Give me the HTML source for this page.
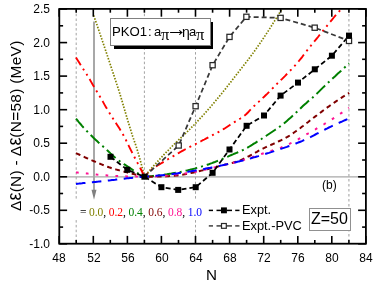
<!DOCTYPE html>
<html><head><meta charset="utf-8"><title>plot</title>
<style>
html,body{margin:0;padding:0;background:#fff;}
body{width:374px;height:285px;position:relative;overflow:hidden;font-family:"Liberation Sans",sans-serif;color:#000;}
.t{position:absolute;white-space:nowrap;line-height:1;will-change:transform;}
.xt{font-size:12px;width:30px;text-align:center;top:252.2px;}
.yt{font-size:12px;width:30px;text-align:right;left:19.9px;}
.ser{font-family:"Liberation Serif",serif;}
</style></head><body>
<svg width="374" height="285" viewBox="0 0 374 285" style="position:absolute;left:0;top:0">
<line x1="76.2" y1="8.9" x2="76.2" y2="243.7" stroke="#8a8a8a" stroke-width="0.8" stroke-dasharray="2.5 2.3"/>
<line x1="144.4" y1="8.9" x2="144.4" y2="243.7" stroke="#8a8a8a" stroke-width="0.8" stroke-dasharray="2.5 2.3"/>
<line x1="195.5" y1="8.9" x2="195.5" y2="243.7" stroke="#8a8a8a" stroke-width="0.8" stroke-dasharray="2.5 2.3"/>
<line x1="348.9" y1="8.9" x2="348.9" y2="243.7" stroke="#b4b4b4" stroke-width="1.3" stroke-dasharray="2.5 2.5"/>
<line x1="59.3" y1="176.8" x2="365.9" y2="176.8" stroke="#a8a8a8" stroke-width="1.2"/>
<line x1="94" y1="21.5" x2="94" y2="191" stroke="#a8a8a8" stroke-width="2"/>
<polygon points="91.5,189.8 96.5,189.8 94,199.8" fill="#808080"/>
<clipPath id="c"><rect x="59.3" y="8.9" width="306.59999999999997" height="234.79999999999998"/></clipPath>
<g clip-path="url(#c)" fill="none">
<path d="M93.7,15.4 L95.2,19.8 L96.7,24.1 L98.2,28.5 L99.7,32.9 L101.2,37.4 L102.7,41.8 L104.2,46.3 L105.7,50.7 L107.2,55.2 L108.7,59.7 L110.2,64.3 L111.7,68.8 L113.2,73.3 L114.7,77.8 L116.2,82.4 L117.7,86.9 L119.2,91.6 L120.7,96.5 L122.2,101.5 L123.7,106.7 L125.2,111.8 L126.7,116.9 L128.2,121.9 L129.7,126.8 L131.2,131.6 L132.7,136.4 L134.2,140.8 L135.7,145.0 L137.2,149.7 L138.7,154.8 L140.2,160.1 L141.7,165.7 L143.2,171.6 L144.4,176.7 L145.9,174.9 L147.4,173.1 L148.9,171.3 L150.4,169.6 L151.9,167.8 L153.4,166.1 L154.9,164.4 L156.4,162.8 L157.9,161.1 L159.4,159.5 L160.9,157.9 L162.4,156.3 L163.9,154.7 L165.4,153.1 L166.9,151.6 L168.4,150.1 L169.9,148.5 L171.4,147.0 L172.9,145.5 L174.4,144.0 L175.9,142.6 L177.4,141.1 L178.9,139.7 L180.4,138.3 L181.9,136.9 L183.4,135.5 L184.9,134.0 L186.4,132.6 L187.9,131.1 L189.4,129.6 L190.9,128.1 L192.4,126.5 L193.9,125.0 L195.4,123.4 L196.9,121.9 L198.4,120.3 L199.9,118.7 L201.4,117.1 L202.9,115.4 L204.4,113.8 L205.9,112.1 L207.4,110.4 L208.9,108.7 L210.4,107.0 L211.9,105.2 L213.4,103.5 L214.9,101.7 L216.4,99.9 L217.9,98.1 L219.4,96.3 L220.9,94.5 L222.4,92.6 L223.9,90.7 L225.4,88.9 L226.9,86.9 L228.4,85.0 L229.9,83.1 L231.4,81.2 L232.9,79.2 L234.4,77.3 L235.9,75.4 L237.4,73.4 L238.9,71.5 L240.4,69.6 L241.9,67.7 L243.4,65.8 L244.9,63.9 L246.4,61.9 L247.9,60.0 L249.4,58.0 L250.9,56.0 L252.4,54.0 L253.9,51.9 L255.4,49.8 L256.9,47.7 L258.4,45.6 L259.9,43.4 L261.4,41.2 L262.9,39.0 L264.4,36.8 L265.9,34.5 L267.4,32.3 L268.9,29.9 L270.4,27.6 L271.9,25.2 L273.4,22.8 L274.9,20.4 L276.4,18.0 L277.9,15.5 L279.4,13.1 L280.9,10.7 L282.0,8.9" stroke="#808000" stroke-width="1.7" stroke-dasharray="1.5 1.5"/>
<path d="M76.0,57.5 L77.5,59.9 L79.0,62.3 L80.5,64.7 L82.0,67.1 L83.5,69.4 L85.0,71.7 L86.5,74.1 L88.0,76.5 L89.5,79.0 L91.0,81.6 L92.5,84.3 L94.0,86.8 L95.5,89.3 L97.0,91.8 L98.5,94.2 L100.0,96.7 L101.5,99.3 L103.0,101.9 L104.5,104.6 L106.0,107.2 L107.5,109.7 L109.0,112.1 L110.5,114.6 L112.0,117.0 L113.5,119.3 L115.0,121.6 L116.5,123.9 L118.0,126.2 L119.5,128.6 L121.0,131.1 L122.5,133.6 L124.0,136.3 L125.5,139.1 L127.0,142.2 L128.5,145.3 L130.0,148.3 L131.5,151.3 L133.0,154.3 L134.5,157.2 L136.0,160.1 L137.5,162.9 L139.0,165.7 L140.5,168.5 L142.0,171.5 L143.5,174.7 L144.4,176.7 L145.9,175.1 L147.4,173.6 L148.9,172.1 L150.4,170.8 L151.9,169.5 L153.4,168.3 L154.9,167.2 L156.4,166.2 L157.9,165.3 L159.4,164.4 L160.9,163.5 L162.4,162.6 L163.9,161.7 L165.4,160.8 L166.9,159.9 L168.4,159.0 L169.9,158.1 L171.4,157.2 L172.9,156.3 L174.4,155.5 L175.9,154.6 L177.4,153.7 L178.9,152.9 L180.4,152.0 L181.9,151.1 L183.4,150.3 L184.9,149.5 L186.4,148.7 L187.9,147.9 L189.4,147.1 L190.9,146.4 L192.4,145.7 L193.9,144.9 L195.4,144.2 L196.9,143.4 L198.4,142.6 L199.9,141.8 L201.4,141.0 L202.9,140.2 L204.4,139.5 L205.9,138.7 L207.4,137.9 L208.9,137.1 L210.4,136.3 L211.9,135.5 L213.4,134.7 L214.9,133.9 L216.4,133.1 L217.9,132.3 L219.4,131.5 L220.9,130.7 L222.4,129.8 L223.9,128.9 L225.4,128.0 L226.9,127.0 L228.4,126.0 L229.9,125.0 L231.4,124.0 L232.9,123.0 L234.4,122.1 L235.9,121.2 L237.4,120.3 L238.9,119.4 L240.4,118.5 L241.9,117.5 L243.4,116.5 L244.9,115.3 L246.4,114.0 L247.9,112.5 L249.4,110.9 L250.9,109.3 L252.4,107.7 L253.9,106.2 L255.4,104.8 L256.9,103.4 L258.4,102.1 L259.9,100.7 L261.4,99.3 L262.9,97.9 L264.4,96.5 L265.9,95.0 L267.4,93.6 L268.9,92.1 L270.4,90.6 L271.9,89.0 L273.4,87.5 L274.9,86.0 L276.4,84.5 L277.9,83.0 L279.4,81.5 L280.9,80.0 L282.4,78.6 L283.9,77.1 L285.4,75.6 L286.9,74.0 L288.4,72.5 L289.9,70.9 L291.4,69.4 L292.9,67.8 L294.4,66.2 L295.9,64.5 L297.4,62.8 L298.9,61.0 L300.4,59.2 L301.9,57.3 L303.4,55.3 L304.9,53.3 L306.4,51.4 L307.9,49.4 L309.4,47.5 L310.9,45.7 L312.4,43.8 L313.9,42.0 L315.4,40.2 L316.9,38.3 L318.4,36.5 L319.9,34.6 L321.4,32.8 L322.9,30.9 L324.4,29.0 L325.9,27.2 L327.4,25.3 L328.9,23.5 L330.4,21.7 L331.9,19.8 L333.4,18.0 L334.9,16.2 L336.4,14.5 L337.9,12.8 L339.4,11.1 L340.9,9.5 L341.5,8.9" stroke="#ff0000" stroke-width="1.9" stroke-dasharray="9 4.2 2 4.2 2 4.1"/>
<path d="M76.0,118.6 L77.5,120.4 L79.0,122.3 L80.5,124.0 L82.0,125.8 L83.5,127.5 L85.0,129.1 L86.5,130.7 L88.0,132.3 L89.5,133.8 L91.0,135.3 L92.5,136.8 L94.0,138.3 L95.5,139.7 L97.0,141.1 L98.5,142.5 L100.0,143.8 L101.5,145.1 L103.0,146.4 L104.5,147.7 L106.0,149.1 L107.5,150.5 L109.0,151.9 L110.5,153.4 L112.0,154.8 L113.5,156.2 L115.0,157.6 L116.5,158.8 L118.0,160.0 L119.5,161.1 L121.0,162.2 L122.5,163.2 L124.0,164.2 L125.5,165.2 L127.0,166.2 L128.5,167.2 L130.0,168.2 L131.5,169.2 L133.0,170.2 L134.5,171.2 L136.0,172.1 L137.5,173.0 L139.0,173.9 L140.5,174.7 L142.0,175.5 L143.5,176.3 L144.4,176.7 L145.9,176.6 L147.4,176.5 L148.9,176.3 L150.4,176.2 L151.9,176.1 L153.4,175.9 L154.9,175.7 L156.4,175.6 L157.9,175.4 L159.4,175.2 L160.9,175.1 L162.4,174.9 L163.9,174.7 L165.4,174.5 L166.9,174.3 L168.4,174.0 L169.9,173.8 L171.4,173.6 L172.9,173.3 L174.4,173.0 L175.9,172.8 L177.4,172.5 L178.9,172.2 L180.4,171.9 L181.9,171.6 L183.4,171.3 L184.9,171.0 L186.4,170.6 L187.9,170.3 L189.4,169.9 L190.9,169.5 L192.4,169.1 L193.9,168.8 L195.4,168.4 L196.9,167.9 L198.4,167.5 L199.9,167.1 L201.4,166.6 L202.9,166.1 L204.4,165.7 L205.9,165.2 L207.4,164.7 L208.9,164.2 L210.4,163.6 L211.9,163.1 L213.4,162.5 L214.9,162.0 L216.4,161.4 L217.9,160.8 L219.4,160.2 L220.9,159.6 L222.4,159.0 L223.9,158.3 L225.4,157.7 L226.9,157.0 L228.4,156.4 L229.9,155.7 L231.4,155.0 L232.9,154.4 L234.4,153.7 L235.9,153.1 L237.4,152.5 L238.9,151.8 L240.4,151.2 L241.9,150.5 L243.4,149.8 L244.9,149.1 L246.4,148.3 L247.9,147.4 L249.4,146.5 L250.9,145.6 L252.4,144.7 L253.9,143.7 L255.4,142.8 L256.9,141.8 L258.4,140.9 L259.9,139.9 L261.4,139.0 L262.9,138.0 L264.4,137.0 L265.9,136.0 L267.4,135.0 L268.9,134.0 L270.4,133.0 L271.9,132.0 L273.4,131.0 L274.9,130.0 L276.4,129.0 L277.9,128.0 L279.4,126.9 L280.9,125.8 L282.4,124.7 L283.9,123.5 L285.4,122.2 L286.9,120.9 L288.4,119.6 L289.9,118.3 L291.4,116.9 L292.9,115.6 L294.4,114.2 L295.9,112.8 L297.4,111.4 L298.9,110.0 L300.4,108.5 L301.9,107.0 L303.4,105.6 L304.9,104.2 L306.4,102.9 L307.9,101.5 L309.4,100.3 L310.9,99.0 L312.4,97.7 L313.9,96.4 L315.4,95.0 L316.9,93.6 L318.4,92.1 L319.9,90.6 L321.4,89.1 L322.9,87.6 L324.4,86.2 L325.9,84.7 L327.4,83.3 L328.9,81.9 L330.4,80.5 L331.9,79.1 L333.4,77.7 L334.9,76.4 L336.4,75.0 L337.9,73.6 L339.4,72.3 L340.9,70.9 L342.4,69.5 L343.9,68.1 L345.4,66.7 L346.9,65.3 L348.4,63.9 L349.0,63.3" stroke="#008000" stroke-width="2" stroke-dasharray="12 4 2 4"/>
<path d="M76.0,153.1 L77.5,153.8 L79.0,154.5 L80.5,155.2 L82.0,155.9 L83.5,156.6 L85.0,157.3 L86.5,158.0 L88.0,158.6 L89.5,159.3 L91.0,159.9 L92.5,160.6 L94.0,161.2 L95.5,161.8 L97.0,162.5 L98.5,163.1 L100.0,163.8 L101.5,164.4 L103.0,165.0 L104.5,165.6 L106.0,166.2 L107.5,166.7 L109.0,167.3 L110.5,167.8 L112.0,168.3 L113.5,168.7 L115.0,169.2 L116.5,169.6 L118.0,170.0 L119.5,170.4 L121.0,170.8 L122.5,171.2 L124.0,171.6 L125.5,172.0 L127.0,172.4 L128.5,172.8 L130.0,173.2 L131.5,173.6 L133.0,173.9 L134.5,174.3 L136.0,174.7 L137.5,175.1 L139.0,175.4 L140.5,175.8 L142.0,176.1 L143.5,176.5 L144.4,176.7 L145.9,176.7 L147.4,176.7 L148.9,176.7 L150.4,176.7 L151.9,176.7 L153.4,176.6 L154.9,176.6 L156.4,176.6 L157.9,176.6 L159.4,176.5 L160.9,176.5 L162.4,176.5 L163.9,176.4 L165.4,176.4 L166.9,176.3 L168.4,176.2 L169.9,176.1 L171.4,176.0 L172.9,175.8 L174.4,175.7 L175.9,175.6 L177.4,175.4 L178.9,175.3 L180.4,175.1 L181.9,174.8 L183.4,174.6 L184.9,174.3 L186.4,174.0 L187.9,173.7 L189.4,173.4 L190.9,173.0 L192.4,172.7 L193.9,172.4 L195.4,172.1 L196.9,171.7 L198.4,171.4 L199.9,171.0 L201.4,170.6 L202.9,170.3 L204.4,169.9 L205.9,169.5 L207.4,169.2 L208.9,168.8 L210.4,168.4 L211.9,168.0 L213.4,167.6 L214.9,167.2 L216.4,166.8 L217.9,166.5 L219.4,166.1 L220.9,165.7 L222.4,165.3 L223.9,164.9 L225.4,164.5 L226.9,164.2 L228.4,163.8 L229.9,163.4 L231.4,163.0 L232.9,162.7 L234.4,162.2 L235.9,161.8 L237.4,161.3 L238.9,160.8 L240.4,160.3 L241.9,159.6 L243.4,158.9 L244.9,158.2 L246.4,157.5 L247.9,156.7 L249.4,156.0 L250.9,155.2 L252.4,154.4 L253.9,153.5 L255.4,152.6 L256.9,151.8 L258.4,150.9 L259.9,150.1 L261.4,149.3 L262.9,148.6 L264.4,147.9 L265.9,147.2 L267.4,146.5 L268.9,145.8 L270.4,145.2 L271.9,144.5 L273.4,143.8 L274.9,143.1 L276.4,142.4 L277.9,141.7 L279.4,141.0 L280.9,140.3 L282.4,139.6 L283.9,138.8 L285.4,138.0 L286.9,137.2 L288.4,136.3 L289.9,135.4 L291.4,134.4 L292.9,133.4 L294.4,132.3 L295.9,131.2 L297.4,130.1 L298.9,129.1 L300.4,128.0 L301.9,126.8 L303.4,125.7 L304.9,124.5 L306.4,123.3 L307.9,122.2 L309.4,121.0 L310.9,119.8 L312.4,118.7 L313.9,117.5 L315.4,116.4 L316.9,115.3 L318.4,114.1 L319.9,113.0 L321.4,111.9 L322.9,110.7 L324.4,109.6 L325.9,108.5 L327.4,107.4 L328.9,106.4 L330.4,105.3 L331.9,104.2 L333.4,103.2 L334.9,102.1 L336.4,101.1 L337.9,100.1 L339.4,99.1 L340.9,98.1 L342.4,97.1 L343.9,96.2 L345.4,95.2 L346.9,94.3 L348.4,93.4 L349.2,92.9" stroke="#800000" stroke-width="2" stroke-dasharray="4.8 3.7"/>
<path d="M76.0,172.4 L77.5,172.5 L79.0,172.7 L80.5,172.8 L82.0,172.9 L83.5,173.1 L85.0,173.2 L86.5,173.4 L88.0,173.6 L89.5,173.7 L91.0,173.9 L92.5,174.1 L94.0,174.3 L95.5,174.4 L97.0,174.6 L98.5,174.7 L100.0,174.8 L101.5,174.9 L103.0,175.1 L104.5,175.2 L106.0,175.3 L107.5,175.4 L109.0,175.5 L110.5,175.6 L112.0,175.7 L113.5,175.8 L115.0,175.9 L116.5,175.9 L118.0,176.0 L119.5,176.1 L121.0,176.1 L122.5,176.2 L124.0,176.3 L125.5,176.3 L127.0,176.4 L128.5,176.4 L130.0,176.5 L131.5,176.5 L133.0,176.6 L134.5,176.6 L136.0,176.6 L137.5,176.6 L139.0,176.7 L140.5,176.7 L142.0,176.7 L143.5,176.7 L144.4,176.7 L145.9,176.7 L147.4,176.6 L148.9,176.6 L150.4,176.5 L151.9,176.5 L153.4,176.4 L154.9,176.4 L156.4,176.3 L157.9,176.2 L159.4,176.1 L160.9,176.0 L162.4,175.9 L163.9,175.8 L165.4,175.7 L166.9,175.6 L168.4,175.4 L169.9,175.3 L171.4,175.1 L172.9,175.0 L174.4,174.8 L175.9,174.6 L177.4,174.4 L178.9,174.3 L180.4,174.1 L181.9,173.9 L183.4,173.7 L184.9,173.5 L186.4,173.3 L187.9,173.1 L189.4,172.8 L190.9,172.6 L192.4,172.4 L193.9,172.1 L195.4,171.8 L196.9,171.6 L198.4,171.2 L199.9,170.9 L201.4,170.6 L202.9,170.2 L204.4,169.8 L205.9,169.5 L207.4,169.1 L208.9,168.7 L210.4,168.3 L211.9,168.0 L213.4,167.6 L214.9,167.3 L216.4,166.9 L217.9,166.5 L219.4,166.2 L220.9,165.8 L222.4,165.5 L223.9,165.1 L225.4,164.8 L226.9,164.4 L228.4,164.0 L229.9,163.6 L231.4,163.2 L232.9,162.8 L234.4,162.5 L235.9,162.1 L237.4,161.6 L238.9,161.2 L240.4,160.8 L241.9,160.4 L243.4,160.0 L244.9,159.5 L246.4,159.1 L247.9,158.6 L249.4,158.2 L250.9,157.7 L252.4,157.2 L253.9,156.6 L255.4,156.1 L256.9,155.6 L258.4,155.1 L259.9,154.5 L261.4,154.0 L262.9,153.5 L264.4,153.0 L265.9,152.5 L267.4,152.0 L268.9,151.5 L270.4,151.1 L271.9,150.6 L273.4,150.2 L274.9,149.8 L276.4,149.4 L277.9,148.9 L279.4,148.3 L280.9,147.7 L282.4,147.0 L283.9,146.3 L285.4,145.7 L286.9,145.0 L288.4,144.3 L289.9,143.6 L291.4,142.9 L292.9,142.2 L294.4,141.4 L295.9,140.6 L297.4,139.8 L298.9,138.9 L300.4,138.0 L301.9,137.1 L303.4,136.2 L304.9,135.3 L306.4,134.4 L307.9,133.6 L309.4,132.7 L310.9,131.9 L312.4,131.0 L313.9,130.1 L315.4,129.3 L316.9,128.4 L318.4,127.5 L319.9,126.7 L321.4,125.8 L322.9,124.9 L324.4,124.0 L325.9,123.0 L327.4,122.1 L328.9,121.2 L330.4,120.2 L331.9,119.3 L333.4,118.3 L334.9,117.3 L336.4,116.4 L337.9,115.4 L339.4,114.4 L340.9,113.3 L342.4,112.3 L343.9,111.2 L345.4,110.2 L346.9,109.2 L348.4,108.2 L349.0,107.8" stroke="#ff1493" stroke-width="2" stroke-dasharray="2.7 7.2"/>
<path d="M76.0,183.9 L77.5,183.7 L79.0,183.6 L80.5,183.4 L82.0,183.3 L83.5,183.1 L85.0,183.0 L86.5,182.8 L88.0,182.7 L89.5,182.5 L91.0,182.3 L92.5,182.2 L94.0,182.0 L95.5,181.9 L97.0,181.7 L98.5,181.6 L100.0,181.4 L101.5,181.2 L103.0,181.1 L104.5,180.9 L106.0,180.8 L107.5,180.6 L109.0,180.4 L110.5,180.3 L112.0,180.1 L113.5,179.9 L115.0,179.8 L116.5,179.6 L118.0,179.4 L119.5,179.2 L121.0,179.1 L122.5,178.9 L124.0,178.7 L125.5,178.5 L127.0,178.3 L128.5,178.2 L130.0,178.0 L131.5,177.9 L133.0,177.7 L134.5,177.6 L136.0,177.4 L137.5,177.3 L139.0,177.1 L140.5,177.0 L142.0,176.9 L143.5,176.8 L144.4,176.7 L145.9,176.6 L147.4,176.5 L148.9,176.4 L150.4,176.3 L151.9,176.2 L153.4,176.0 L154.9,175.9 L156.4,175.8 L157.9,175.6 L159.4,175.5 L160.9,175.3 L162.4,175.2 L163.9,175.0 L165.4,174.9 L166.9,174.7 L168.4,174.5 L169.9,174.3 L171.4,174.2 L172.9,174.0 L174.4,173.8 L175.9,173.6 L177.4,173.4 L178.9,173.1 L180.4,172.9 L181.9,172.7 L183.4,172.5 L184.9,172.2 L186.4,172.0 L187.9,171.8 L189.4,171.5 L190.9,171.3 L192.4,171.0 L193.9,170.7 L195.4,170.5 L196.9,170.2 L198.4,170.0 L199.9,169.7 L201.4,169.4 L202.9,169.2 L204.4,168.9 L205.9,168.6 L207.4,168.3 L208.9,168.0 L210.4,167.8 L211.9,167.5 L213.4,167.2 L214.9,166.9 L216.4,166.6 L217.9,166.2 L219.4,165.9 L220.9,165.6 L222.4,165.3 L223.9,164.9 L225.4,164.6 L226.9,164.3 L228.4,163.9 L229.9,163.6 L231.4,163.2 L232.9,162.9 L234.4,162.5 L235.9,162.2 L237.4,161.8 L238.9,161.4 L240.4,161.1 L241.9,160.7 L243.4,160.3 L244.9,159.9 L246.4,159.5 L247.9,159.1 L249.4,158.7 L250.9,158.3 L252.4,157.8 L253.9,157.4 L255.4,157.0 L256.9,156.5 L258.4,156.1 L259.9,155.6 L261.4,155.2 L262.9,154.7 L264.4,154.3 L265.9,153.8 L267.4,153.3 L268.9,152.9 L270.4,152.4 L271.9,151.9 L273.4,151.4 L274.9,150.9 L276.4,150.4 L277.9,149.9 L279.4,149.4 L280.9,148.9 L282.4,148.4 L283.9,147.9 L285.4,147.4 L286.9,146.9 L288.4,146.3 L289.9,145.8 L291.4,145.2 L292.9,144.7 L294.4,144.1 L295.9,143.5 L297.4,142.9 L298.9,142.3 L300.4,141.7 L301.9,141.1 L303.4,140.4 L304.9,139.7 L306.4,139.1 L307.9,138.4 L309.4,137.6 L310.9,136.9 L312.4,136.1 L313.9,135.3 L315.4,134.5 L316.9,133.7 L318.4,133.0 L319.9,132.2 L321.4,131.4 L322.9,130.6 L324.4,129.8 L325.9,129.0 L327.4,128.3 L328.9,127.5 L330.4,126.8 L331.9,126.1 L333.4,125.4 L334.9,124.8 L336.4,124.1 L337.9,123.4 L339.4,122.7 L340.9,122.0 L342.4,121.4 L343.9,120.7 L345.4,120.0 L346.9,119.3 L348.4,118.6 L349.2,118.2" stroke="#0000ff" stroke-width="2" stroke-dasharray="9.5 6.5"/>
<path d="M144.4,176.7 L178.7,145.5 L195.6,106.2 L212.6,65.2 L229.5,36.9 L246.4,16.8 L280.6,17.9 L314.7,27.7 L349.0,40.9" stroke="#383838" stroke-width="1.75" stroke-dasharray="5 3"/>
<path d="M110.5,156.8 L127.3,169.8 L144.4,176.7 L161.4,187.2 L178.2,189.9 L195.7,187.2 L212.6,172.8 L229.5,149.5 L246.6,125.8 L264.0,115.5 L280.6,95.6 L298.0,82.6 L314.8,69.3 L331.9,55.7 L349.0,35.6" stroke="#000" stroke-width="1.75" stroke-dasharray="5 3"/>
</g>
<rect x="176.1" y="142.9" width="5.2" height="5.2" fill="#fff" stroke="#282828" stroke-width="1.25"/>
<rect x="193.0" y="103.6" width="5.2" height="5.2" fill="#fff" stroke="#282828" stroke-width="1.25"/>
<rect x="210.0" y="62.6" width="5.2" height="5.2" fill="#fff" stroke="#282828" stroke-width="1.25"/>
<rect x="226.9" y="34.3" width="5.2" height="5.2" fill="#fff" stroke="#282828" stroke-width="1.25"/>
<rect x="243.8" y="14.2" width="5.2" height="5.2" fill="#fff" stroke="#282828" stroke-width="1.25"/>
<rect x="278.0" y="15.3" width="5.2" height="5.2" fill="#fff" stroke="#282828" stroke-width="1.25"/>
<rect x="312.1" y="25.1" width="5.2" height="5.2" fill="#fff" stroke="#282828" stroke-width="1.25"/>
<rect x="346.4" y="38.3" width="5.2" height="5.2" fill="#fff" stroke="#282828" stroke-width="1.25"/>
<rect x="107.5" y="153.8" width="6" height="6" fill="#000"/>
<rect x="124.3" y="166.8" width="6" height="6" fill="#000"/>
<rect x="141.4" y="173.7" width="6" height="6" fill="#000"/>
<rect x="158.4" y="184.2" width="6" height="6" fill="#000"/>
<rect x="175.2" y="186.9" width="6" height="6" fill="#000"/>
<rect x="192.7" y="184.2" width="6" height="6" fill="#000"/>
<rect x="209.6" y="169.8" width="6" height="6" fill="#000"/>
<rect x="226.5" y="146.5" width="6" height="6" fill="#000"/>
<rect x="243.6" y="122.8" width="6" height="6" fill="#000"/>
<rect x="261.0" y="112.5" width="6" height="6" fill="#000"/>
<rect x="277.6" y="92.6" width="6" height="6" fill="#000"/>
<rect x="295.0" y="79.6" width="6" height="6" fill="#000"/>
<rect x="311.8" y="66.3" width="6" height="6" fill="#000"/>
<rect x="328.9" y="52.7" width="6" height="6" fill="#000"/>
<rect x="346.0" y="32.6" width="6" height="6" fill="#000"/>
<rect x="59.3" y="8.9" width="306.59999999999997" height="234.79999999999998" fill="none" stroke="#000" stroke-width="1.8"/>
<line x1="59.2" y1="243.7" x2="59.2" y2="235.89999999999998" stroke="#000" stroke-width="1.6"/>
<line x1="59.2" y1="8.9" x2="59.2" y2="16.7" stroke="#000" stroke-width="1.6"/>
<line x1="76.2" y1="243.7" x2="76.2" y2="239.89999999999998" stroke="#000" stroke-width="1.6"/>
<line x1="76.2" y1="8.9" x2="76.2" y2="12.7" stroke="#000" stroke-width="1.6"/>
<line x1="93.3" y1="243.7" x2="93.3" y2="235.89999999999998" stroke="#000" stroke-width="1.6"/>
<line x1="93.3" y1="8.9" x2="93.3" y2="16.7" stroke="#000" stroke-width="1.6"/>
<line x1="110.3" y1="243.7" x2="110.3" y2="239.89999999999998" stroke="#000" stroke-width="1.6"/>
<line x1="110.3" y1="8.9" x2="110.3" y2="12.7" stroke="#000" stroke-width="1.6"/>
<line x1="127.4" y1="243.7" x2="127.4" y2="235.89999999999998" stroke="#000" stroke-width="1.6"/>
<line x1="127.4" y1="8.9" x2="127.4" y2="16.7" stroke="#000" stroke-width="1.6"/>
<line x1="144.4" y1="243.7" x2="144.4" y2="239.89999999999998" stroke="#000" stroke-width="1.6"/>
<line x1="144.4" y1="8.9" x2="144.4" y2="12.7" stroke="#000" stroke-width="1.6"/>
<line x1="161.4" y1="243.7" x2="161.4" y2="235.89999999999998" stroke="#000" stroke-width="1.6"/>
<line x1="161.4" y1="8.9" x2="161.4" y2="16.7" stroke="#000" stroke-width="1.6"/>
<line x1="178.5" y1="243.7" x2="178.5" y2="239.89999999999998" stroke="#000" stroke-width="1.6"/>
<line x1="178.5" y1="8.9" x2="178.5" y2="12.7" stroke="#000" stroke-width="1.6"/>
<line x1="195.5" y1="243.7" x2="195.5" y2="235.89999999999998" stroke="#000" stroke-width="1.6"/>
<line x1="195.5" y1="8.9" x2="195.5" y2="16.7" stroke="#000" stroke-width="1.6"/>
<line x1="212.6" y1="243.7" x2="212.6" y2="239.89999999999998" stroke="#000" stroke-width="1.6"/>
<line x1="212.6" y1="8.9" x2="212.6" y2="12.7" stroke="#000" stroke-width="1.6"/>
<line x1="229.6" y1="243.7" x2="229.6" y2="235.89999999999998" stroke="#000" stroke-width="1.6"/>
<line x1="229.6" y1="8.9" x2="229.6" y2="16.7" stroke="#000" stroke-width="1.6"/>
<line x1="246.6" y1="243.7" x2="246.6" y2="239.89999999999998" stroke="#000" stroke-width="1.6"/>
<line x1="246.6" y1="8.9" x2="246.6" y2="12.7" stroke="#000" stroke-width="1.6"/>
<line x1="263.7" y1="243.7" x2="263.7" y2="235.89999999999998" stroke="#000" stroke-width="1.6"/>
<line x1="263.7" y1="8.9" x2="263.7" y2="16.7" stroke="#000" stroke-width="1.6"/>
<line x1="280.7" y1="243.7" x2="280.7" y2="239.89999999999998" stroke="#000" stroke-width="1.6"/>
<line x1="280.7" y1="8.9" x2="280.7" y2="12.7" stroke="#000" stroke-width="1.6"/>
<line x1="297.8" y1="243.7" x2="297.8" y2="235.89999999999998" stroke="#000" stroke-width="1.6"/>
<line x1="297.8" y1="8.9" x2="297.8" y2="16.7" stroke="#000" stroke-width="1.6"/>
<line x1="314.8" y1="243.7" x2="314.8" y2="239.89999999999998" stroke="#000" stroke-width="1.6"/>
<line x1="314.8" y1="8.9" x2="314.8" y2="12.7" stroke="#000" stroke-width="1.6"/>
<line x1="331.8" y1="243.7" x2="331.8" y2="235.89999999999998" stroke="#000" stroke-width="1.6"/>
<line x1="331.8" y1="8.9" x2="331.8" y2="16.7" stroke="#000" stroke-width="1.6"/>
<line x1="348.9" y1="243.7" x2="348.9" y2="239.89999999999998" stroke="#000" stroke-width="1.6"/>
<line x1="348.9" y1="8.9" x2="348.9" y2="12.7" stroke="#000" stroke-width="1.6"/>
<line x1="365.9" y1="243.7" x2="365.9" y2="235.89999999999998" stroke="#000" stroke-width="1.6"/>
<line x1="365.9" y1="8.9" x2="365.9" y2="16.7" stroke="#000" stroke-width="1.6"/>
<line x1="59.3" y1="243.8" x2="67.1" y2="243.8" stroke="#000" stroke-width="1.6"/>
<line x1="365.9" y1="243.8" x2="358.09999999999997" y2="243.8" stroke="#000" stroke-width="1.6"/>
<line x1="59.3" y1="227.1" x2="63.099999999999994" y2="227.1" stroke="#000" stroke-width="1.6"/>
<line x1="365.9" y1="227.1" x2="362.09999999999997" y2="227.1" stroke="#000" stroke-width="1.6"/>
<line x1="59.3" y1="210.3" x2="67.1" y2="210.3" stroke="#000" stroke-width="1.6"/>
<line x1="365.9" y1="210.3" x2="358.09999999999997" y2="210.3" stroke="#000" stroke-width="1.6"/>
<line x1="59.3" y1="193.5" x2="63.099999999999994" y2="193.5" stroke="#000" stroke-width="1.6"/>
<line x1="365.9" y1="193.5" x2="362.09999999999997" y2="193.5" stroke="#000" stroke-width="1.6"/>
<line x1="59.3" y1="176.8" x2="67.1" y2="176.8" stroke="#000" stroke-width="1.6"/>
<line x1="365.9" y1="176.8" x2="358.09999999999997" y2="176.8" stroke="#000" stroke-width="1.6"/>
<line x1="59.3" y1="160.0" x2="63.099999999999994" y2="160.0" stroke="#000" stroke-width="1.6"/>
<line x1="365.9" y1="160.0" x2="362.09999999999997" y2="160.0" stroke="#000" stroke-width="1.6"/>
<line x1="59.3" y1="143.2" x2="67.1" y2="143.2" stroke="#000" stroke-width="1.6"/>
<line x1="365.9" y1="143.2" x2="358.09999999999997" y2="143.2" stroke="#000" stroke-width="1.6"/>
<line x1="59.3" y1="126.4" x2="63.099999999999994" y2="126.4" stroke="#000" stroke-width="1.6"/>
<line x1="365.9" y1="126.4" x2="362.09999999999997" y2="126.4" stroke="#000" stroke-width="1.6"/>
<line x1="59.3" y1="109.7" x2="67.1" y2="109.7" stroke="#000" stroke-width="1.6"/>
<line x1="365.9" y1="109.7" x2="358.09999999999997" y2="109.7" stroke="#000" stroke-width="1.6"/>
<line x1="59.3" y1="92.9" x2="63.099999999999994" y2="92.9" stroke="#000" stroke-width="1.6"/>
<line x1="365.9" y1="92.9" x2="362.09999999999997" y2="92.9" stroke="#000" stroke-width="1.6"/>
<line x1="59.3" y1="76.1" x2="67.1" y2="76.1" stroke="#000" stroke-width="1.6"/>
<line x1="365.9" y1="76.1" x2="358.09999999999997" y2="76.1" stroke="#000" stroke-width="1.6"/>
<line x1="59.3" y1="59.3" x2="63.099999999999994" y2="59.3" stroke="#000" stroke-width="1.6"/>
<line x1="365.9" y1="59.3" x2="362.09999999999997" y2="59.3" stroke="#000" stroke-width="1.6"/>
<line x1="59.3" y1="42.6" x2="67.1" y2="42.6" stroke="#000" stroke-width="1.6"/>
<line x1="365.9" y1="42.6" x2="358.09999999999997" y2="42.6" stroke="#000" stroke-width="1.6"/>
<line x1="59.3" y1="25.8" x2="63.099999999999994" y2="25.8" stroke="#000" stroke-width="1.6"/>
<line x1="365.9" y1="25.8" x2="362.09999999999997" y2="25.8" stroke="#000" stroke-width="1.6"/>
<line x1="59.3" y1="9.0" x2="67.1" y2="9.0" stroke="#000" stroke-width="1.6"/>
<line x1="365.9" y1="9.0" x2="358.09999999999997" y2="9.0" stroke="#000" stroke-width="1.6"/>
<line x1="208.8" y1="210.4" x2="213" y2="210.4" stroke="#000" stroke-width="1.5"/>
<line x1="216.5" y1="210.4" x2="221.5" y2="210.4" stroke="#000" stroke-width="1.5"/>
<line x1="226.5" y1="210.4" x2="232" y2="210.4" stroke="#000" stroke-width="1.5"/>
<line x1="235.2" y1="210.4" x2="239.5" y2="210.4" stroke="#000" stroke-width="1.5"/>
<rect x="221" y="207.4" width="5.9" height="5.9" fill="#000"/>
<line x1="208.8" y1="225.9" x2="213" y2="225.9" stroke="#404040" stroke-width="1.5"/>
<line x1="216.5" y1="225.9" x2="221.5" y2="225.9" stroke="#404040" stroke-width="1.5"/>
<line x1="226.5" y1="225.9" x2="232" y2="225.9" stroke="#404040" stroke-width="1.5"/>
<line x1="235.2" y1="225.9" x2="239.5" y2="225.9" stroke="#404040" stroke-width="1.5"/>
<rect x="221.5" y="223.5" width="4.8" height="4.8" fill="#fff" stroke="#282828" stroke-width="1.2"/>
</svg>
<div class="t xt" style="left:44.4px">48</div>
<div class="t xt" style="left:78.5px">52</div>
<div class="t xt" style="left:112.6px">56</div>
<div class="t xt" style="left:146.6px">60</div>
<div class="t xt" style="left:180.7px">64</div>
<div class="t xt" style="left:214.8px">68</div>
<div class="t xt" style="left:248.9px">72</div>
<div class="t xt" style="left:283.0px">76</div>
<div class="t xt" style="left:317.0px">80</div>
<div class="t xt" style="left:351.1px">84</div>
<div class="t yt" style="top:237.9px">-1.0</div>
<div class="t yt" style="top:204.4px">-0.5</div>
<div class="t yt" style="top:170.8px">0.0</div>
<div class="t yt" style="top:137.3px">0.5</div>
<div class="t yt" style="top:103.8px">1.0</div>
<div class="t yt" style="top:70.2px">1.5</div>
<div class="t yt" style="top:36.7px">2.0</div>
<div class="t yt" style="top:3.1px">2.5</div>
<div class="t" style="font-size:15.2px;left:205.6px;top:266.8px">N</div>
<div class="t" id="yl" style="font-size:15.4px;left:7.9px;top:211.1px;letter-spacing:0.3px;transform-origin:0 0;transform:rotate(-90deg);">Δ<span style="font-size:20.5px;line-height:0;display:inline-block;transform:scaleX(0.88);margin:0 -0.7px">ε</span>(N) - Δ<span style="font-size:20.5px;line-height:0;display:inline-block;transform:scaleX(0.88);margin:0 -0.7px">ε</span>(N=58) (MeV)</div>
<div style="position:absolute;left:113.5px;top:22.3px;width:99.6px;height:26.9px;background:#000"></div>
<div style="position:absolute;left:110px;top:18.2px;width:98.8px;height:26px;background:#fff;border:1px solid #808080;box-sizing:content-box"></div>
<div class="t" style="font-size:13.2px;left:112px;top:25.2px">PKO1<span style="margin-left:0.8px">:</span></div>
<div class="t" style="font-size:13px;left:153.8px;top:25.3px">a</div>
<div class="t ser" style="font-size:16.5px;left:160.5px;top:26.9px">π</div>
<div class="t ser" style="font-size:21px;left:165.7px;top:19.3px">→</div>
<div class="t" style="font-size:14px;left:182px;top:24.5px">η</div>
<div class="t" style="font-size:13px;left:188.5px;top:25.3px">a</div>
<div class="t ser" style="font-size:16.5px;left:196px;top:26.9px">π</div>
<div style="position:absolute;left:70px;top:200px;width:134px;height:20px;background:#fff"></div>
<div class="t ser" id="lam" style="font-size:11.5px;left:80.3px;top:206.8px;word-spacing:-0.4px"><span style="color:#000">= </span><span style="color:#808000">0.0</span>, <span style="color:#ff0000">0.2</span>, <span style="color:#008000">0.4</span>, <span style="color:#800000">0.6</span>, <span style="color:#ff1493">0.8</span>, <span style="color:#0000ff">1.0</span></div>
<div class="t" style="font-size:12.8px;left:241.5px;top:204.1px">Expt.</div>
<div class="t" style="font-size:12.8px;left:241.5px;top:219.5px">Expt.-PVC</div>
<div class="t" style="font-size:12px;left:321.5px;top:179px">(b)</div>
<div style="position:absolute;left:308.7px;top:208px;width:40.2px;height:20.6px;border:1px solid #909090;background:#fff"></div>
<div class="t" style="font-size:16px;left:311.2px;top:211.3px">Z=50</div>
</body></html>
